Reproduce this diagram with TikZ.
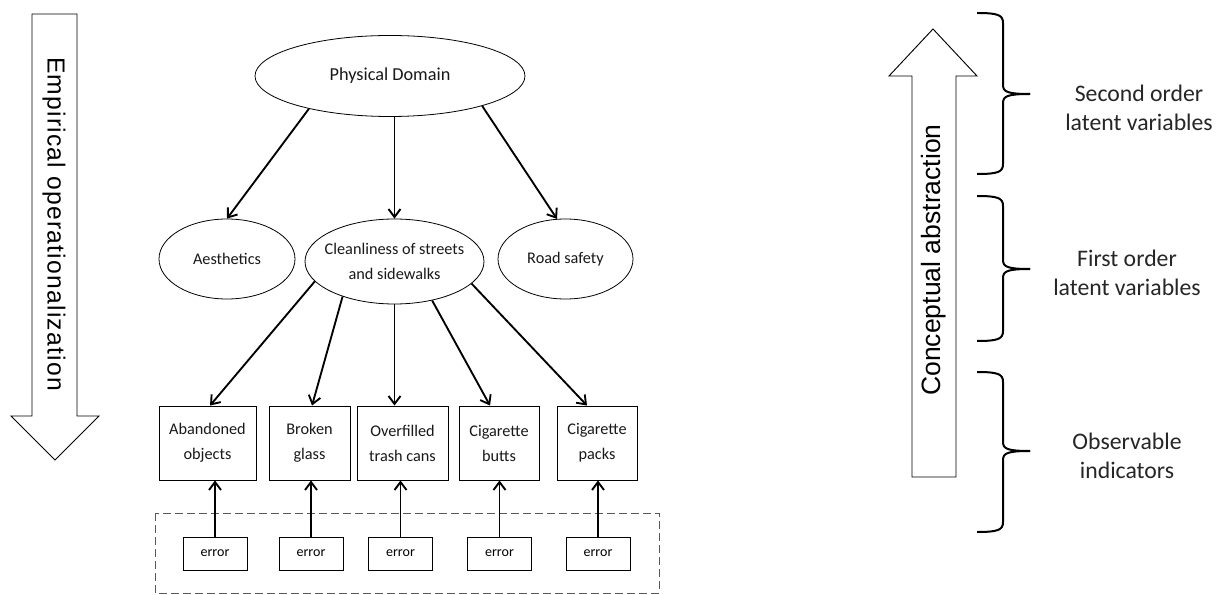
\documentclass[tikz,border=0pt]{standalone}
\usepackage{fontspec}
\setmainfont{Carlito}
\newfontfamily\arrowfont[LetterSpace=5]{Liberation Sans}
\newfontfamily\arrowfontb{Liberation Sans}
\usetikzlibrary{arrows.meta,shapes.geometric}
\newcommand\mybrace[3]{%
 \draw[bracestyle] (977,#1) .. controls (998,#1) and (1003,{#1+2}) .. (1003,{#1+10}) -- (1003,{#2-9}) .. controls (1003,{#2-2}) and (1008,#2) .. (1030,#2);
 \draw[bracestyle] (977,#3) .. controls (998,#3) and (1003,{#3-2}) .. (1003,{#3-10}) -- (1003,{#2+9}) .. controls (1003,{#2+2}) and (1008,#2) .. (1030,#2);
}
\begin{document}
\begin{tikzpicture}[x=0.75pt,y=-0.75pt,
  conn/.style={line width=1.4pt, -{Straight Barb[length=6pt,width=9pt]}},
  ell/.style={draw, ellipse, line width=0.6pt, inner sep=0pt, align=center, text=black!90, font=\fontsize{12.2}{18.75}\selectfont},
  box/.style={draw, rectangle, line width=0.7pt, inner sep=0pt, minimum height=55.5pt, align=center, text=black!90, font=\fontsize{12.2}{18.75}\selectfont},
  errbox/.style={draw, rectangle, line width=0.6pt, inner sep=0pt, minimum width=48pt, minimum height=24.75pt, font=\fontsize{10.5}{12}\selectfont},
  bigarrow/.style={draw, line width=0.7pt, line join=miter, fill=white},
  side/.style={align=center, text=black!85, font=\fontsize{17.8}{22}\selectfont},
  bracestyle/.style={line width=1.5pt, line cap=butt},
  dashbox/.style={draw=black!65, line width=0.7pt, dash pattern=on 6pt off 3pt}
]
\useasboundingbox (0,0) rectangle (1220,595);
\fill[white] (0,0) rectangle (1220,595);

% left big arrow
\draw[bigarrow] (32,14) -- (77,14) -- (77,416) -- (99,416) -- (55,460) -- (11,416) -- (32,416) -- cycle;
\node[rotate=-90, inner sep=0pt, font=\arrowfont\fontsize{18.5}{20}\selectfont] (emp) at (54,224) {Empirical operationalization};

% right big arrow
\draw[bigarrow] (912,477) -- (956,477) -- (956,76) -- (977,76) -- (933,29) -- (889,76) -- (912,76) -- cycle;
\node[rotate=90, inner sep=0pt, font=\arrowfontb\fontsize{19.9}{22}\selectfont] (conc) at (934,260) {Conceptual abstraction};

% braces
\mybrace{13}{94}{174}
\mybrace{196}{269}{341}
\mybrace{372}{451}{532}

\node[side] (t2) at (1139,108) {Second order\\latent variables};
\node[side] (t1) at (1127,273) {First order\\latent variables};
\node[side] (t0) at (1127,456) {Observable\\indicators};

% ellipses
\node[ell, minimum width=202.5pt, minimum height=60.75pt, font=\fontsize{13.7}{16}\selectfont] (phys) at (390,76) {Physical Domain};
\node[ell, minimum width=102pt, minimum height=60pt] (aes) at (227,259) {Aesthetics};
\node[ell, minimum width=134.25pt, minimum height=63.75pt,
  label={[align=center, text=black!90, font=\fontsize{12.2}{18.75}\selectfont]center:{Cleanliness of streets\\and sidewalks}}] (clean) at (394.5,261.5) {};
\node[ell, minimum width=101.25pt, minimum height=60pt] (road) at (565.5,259) {Road safety};

% indicator boxes
\node[box, minimum width=72.75pt] (b1) at (207.5,443) {Abandoned\\objects};
\node[box, minimum width=60.75pt] (b2) at (309.5,443) {Broken\\glass};
\node[box, minimum width=68.25pt] (b3) at (402.5,443) {Overfilled\\trash cans};
\node[box, minimum width=60pt] (b4) at (499,443) {Cigarette\\butts};
\node[box, minimum width=60pt] (b5) at (597,443) {Cigarette\\packs};

% dashed frame
\draw[dashbox] (155,513) rectangle (659,593);

% error boxes
\node[errbox] (e1) at (215,553.5) {error};
\node[errbox] (e2) at (311,553.5) {error};
\node[errbox] (e3) at (400.5,553.5) {error};
\node[errbox] (e4) at (499.5,553.5) {error};
\node[errbox] (e5) at (598,553.5) {error};

% connectors
\draw[conn] (phys.202) -- (aes.north);
\draw[conn] (clean.north |- phys.south) -- (clean.north);
\draw[conn] (phys.342.6) -- (road.102);

\draw[conn] (clean.194) -- ([xshift=1.9pt]b1.north);
\draw[conn] (clean.214.6) -- ([xshift=1.9pt]b2.north);
\draw[conn] (clean.south) -- (clean.south |- b3.north);
\draw[conn] (clean.314.3) -- ([xshift=-6.75pt]b4.north);
\draw[conn] (clean.344.8) -- ([xshift=-7.5pt]b5.north);

\draw[conn] (e1.north) -- (e1.north |- b1.south);
\draw[conn] (e2.north) -- (e2.north |- b2.south);
\draw[conn] (e3.north) -- (e3.north |- b3.south);
\draw[conn] (e4.north) -- (e4.north |- b4.south);
\draw[conn] (e5.north) -- (e5.north |- b5.south);
\end{tikzpicture}
\end{document}
